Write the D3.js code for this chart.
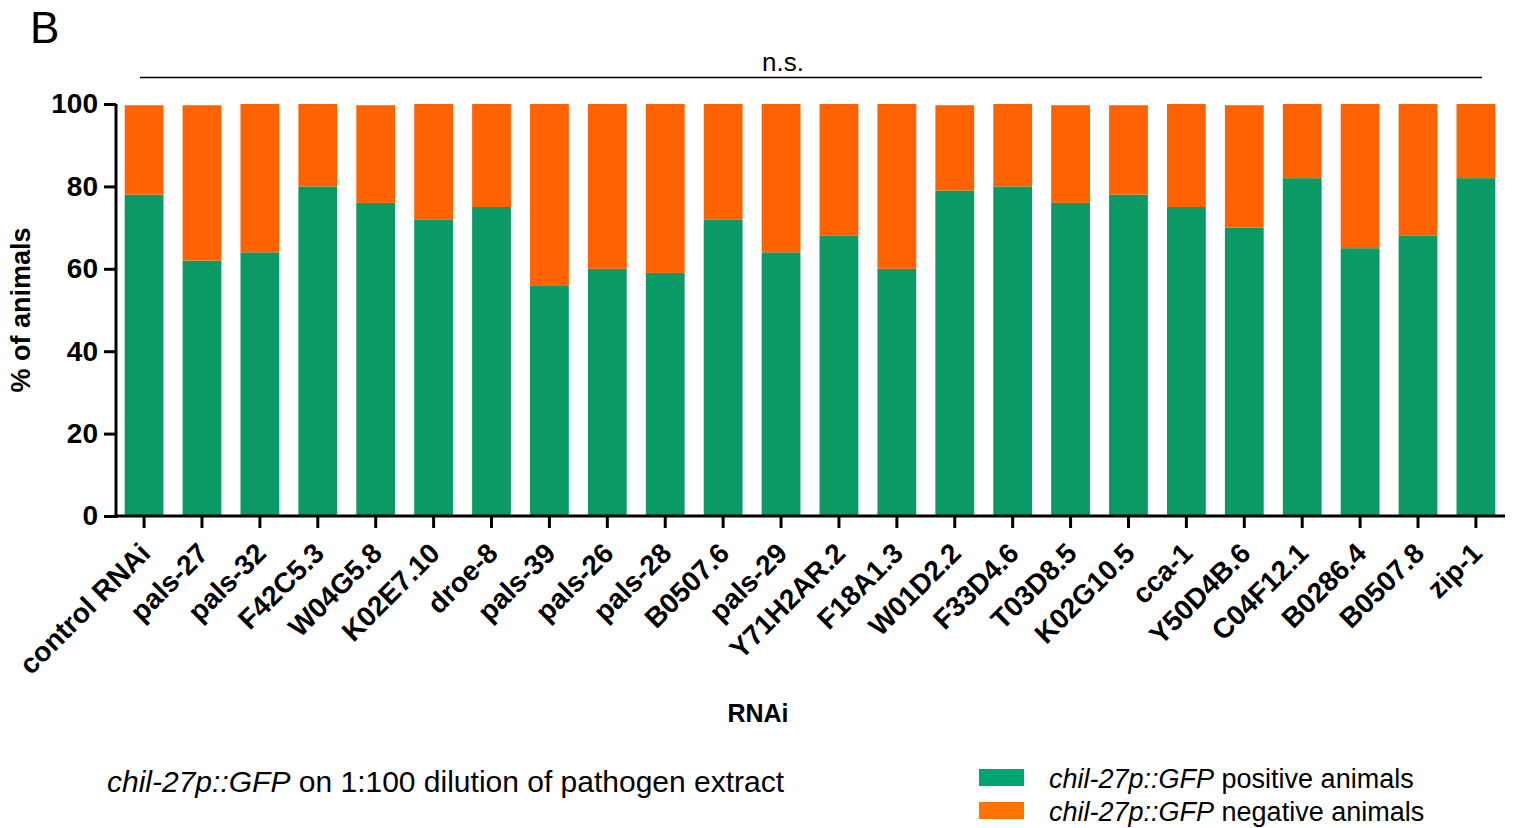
<!DOCTYPE html>
<html>
<head>
<meta charset="utf-8">
<script src="https://cdn.jsdelivr.net/npm/d3@7"></script>
<style>
  html, body { margin: 0; padding: 0; background: #fff; }
  svg { display: block; font-family: "Liberation Sans", Arial, Helvetica, sans-serif; }
</style>
</head>
<body>
<svg id="chart" width="1514" height="828"></svg>
<script>
const categories = ["control RNAi","pals-27","pals-32","F42C5.3","W04G5.8","K02E7.10","droe-8","pals-39","pals-26","pals-28","B0507.6","pals-29","Y71H2AR.2","F18A1.3","W01D2.2","F33D4.6","T03D8.5","K02G10.5","cca-1","Y50D4B.6","C04F12.1","B0286.4","B0507.8","zip-1"];
const positive = [78,62,64,80,76,72,75,56,60,59,72,64,68,60,79,80,76,78,75,70,82,65,68,82];
const negative = [21.7,37.7,36,20,23.7,28,25,44,40,41,28,36,32,40,20.7,20,23.7,21.7,25,29.7,18,35,32,18];
const yTicks = [0,20,40,60,80,100];
const seriesNames = ["positive","negative"];
const barColors = { positive: "#0B9966", negative: "#FF6200" };
const legendColors = { positive: "#00A474", negative: "#FF7300" };

const svg = d3.select("#chart");
const x = d3.scaleBand().domain(categories).range([116, 1504]).paddingInner(0.33).paddingOuter(0.15);
const y = d3.scaleLinear().domain([0, 100]).range([516, 104]);

const rows = categories.map((c, i) => ({ cat: c, positive: positive[i], negative: negative[i] }));
const stacked = d3.stack().keys(seriesNames)(rows);

svg.append("g").selectAll("g").data(stacked).join("g")
  .attr("fill", d => barColors[d.key])
  .selectAll("rect").data(d => d).join("rect")
  .attr("x", d => x(d.data.cat))
  .attr("width", x.bandwidth())
  .attr("y", d => y(d[1]))
  .attr("height", d => y(d[0]) - y(d[1]));

// Y axis
const yAxis = svg.append("g").attr("transform", "translate(116,0)")
  .call(d3.axisLeft(y).tickValues(yTicks).tickSize(12).tickPadding(6).tickSizeOuter(0));
yAxis.select(".domain").attr("stroke-width", 3).attr("d", "M0,518V104");
yAxis.selectAll(".tick line").attr("stroke-width", 3);
yAxis.selectAll(".tick text").attr("font-size", 28).attr("font-weight", "bold").attr("fill", "#000");

// X axis
const xAxis = svg.append("g").attr("transform", "translate(0,516)")
  .call(d3.axisBottom(x).tickSize(12).tickSizeOuter(0));
xAxis.select(".domain").attr("stroke-width", 3).attr("d", "M114.5,0H1505");
xAxis.selectAll(".tick line").attr("stroke-width", 3);
xAxis.selectAll(".tick text")
  .attr("font-size", 28).attr("font-weight", "bold").attr("fill", "#000")
  .attr("text-anchor", "end")
  .attr("y", 0).attr("dy", "0.35em")
  .attr("transform", "translate(1,32) rotate(-45)");

// Axis titles
svg.append("text").attr("transform", "translate(30,310) rotate(-90)")
  .attr("text-anchor", "middle").attr("font-size", 27).attr("font-weight", "bold")
  .text("% of animals");
svg.append("text").attr("x", 758).attr("y", 722).attr("text-anchor", "middle")
  .attr("font-size", 25).attr("font-weight", "bold").text("RNAi");

// Panel letter
svg.append("text").attr("x", 30).attr("y", 43).attr("font-size", 44).text("B");

// Significance
svg.append("line").attr("x1", 140).attr("x2", 1482).attr("y1", 77.5).attr("y2", 77.5)
  .attr("stroke", "#000").attr("stroke-width", 1.5);
svg.append("text").attr("x", 783).attr("y", 71).attr("text-anchor", "middle")
  .attr("font-size", 26).text("n.s.");

// Caption
const cap = svg.append("text").attr("x", 107).attr("y", 792).attr("font-size", 30);
cap.append("tspan").attr("font-style", "italic").text("chil-27p::GFP");
cap.append("tspan").text(" on 1:100 dilution of pathogen extract");

// Legend
const legendLabels = ["positive animals", "negative animals"];
const lg = svg.append("g");
seriesNames.forEach((k, i) => {
  lg.append("rect").attr("x", 979).attr("y", 769 + i * 33).attr("width", 45).attr("height", 17)
    .attr("fill", legendColors[k]);
  const t = lg.append("text").attr("x", 1049).attr("y", 788 + i * 33).attr("font-size", 27);
  t.append("tspan").attr("font-style", "italic").text("chil-27p::GFP");
  t.append("tspan").text(" " + legendLabels[i]);
});
</script>
</body>
</html>
